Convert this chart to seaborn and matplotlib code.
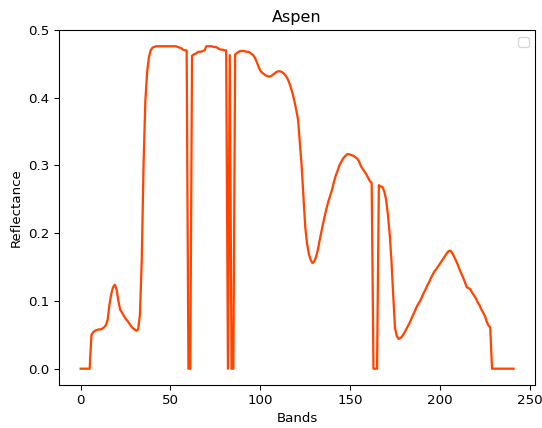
import numpy as np
import pandas as pd
import matplotlib
matplotlib.use("Agg")
import matplotlib.pyplot as plt
import seaborn as sns

# Aspen reflectance spectrum, one value per sensor band (0..241)
reflectance = [
    # 0-9
    0.0, 0.0, 0.0, 0.0, 0.0, 0.0, 0.050, 0.054, 0.056, 0.057,
    # 10-19
    0.058, 0.058, 0.059, 0.061, 0.064, 0.072, 0.094, 0.110, 0.120, 0.124,
    # 20-29
    0.117, 0.100, 0.087, 0.083, 0.078, 0.074, 0.071, 0.067, 0.063, 0.060,
    # 30-39
    0.058, 0.056, 0.058, 0.080, 0.160, 0.300, 0.395, 0.438, 0.460, 0.470,
    # 40-49
    0.474, 0.475, 0.476, 0.476, 0.476, 0.476, 0.476, 0.476, 0.476, 0.476,
    # 50-59
    0.476, 0.476, 0.476, 0.476, 0.475, 0.474, 0.473, 0.471, 0.470, 0.470,
    # 60-69
    0.0, 0.0, 0.462, 0.464, 0.465, 0.467, 0.468, 0.468, 0.469, 0.470,
    # 70-79
    0.476, 0.476, 0.476, 0.476, 0.475, 0.475, 0.474, 0.472, 0.471, 0.471,
    # 80-89
    0.470, 0.470, 0.0, 0.463, 0.0, 0.0, 0.464, 0.466, 0.468, 0.469,
    # 90-99
    0.469, 0.469, 0.468, 0.468, 0.467, 0.465, 0.463, 0.459, 0.453, 0.446,
    # 100-109
    0.440, 0.437, 0.435, 0.433, 0.432, 0.431, 0.432, 0.434, 0.436, 0.438,
    # 110-119
    0.439, 0.439, 0.438, 0.436, 0.433, 0.429, 0.423, 0.415, 0.406, 0.395,
    # 120-129
    0.382, 0.368, 0.335, 0.300, 0.255, 0.210, 0.185, 0.170, 0.161, 0.156,
    # 130-139
    0.158, 0.165, 0.175, 0.189, 0.202, 0.215, 0.227, 0.238, 0.248, 0.256,
    # 140-149
    0.265, 0.276, 0.285, 0.292, 0.300, 0.305, 0.310, 0.313, 0.316, 0.317,
    # 150-159
    0.316, 0.315, 0.314, 0.312, 0.310, 0.306, 0.299, 0.295, 0.291, 0.287,
    # 160-169
    0.282, 0.277, 0.274, 0.0, 0.0, 0.0, 0.271, 0.269, 0.268, 0.262,
    # 170-179
    0.250, 0.228, 0.200, 0.160, 0.108, 0.060, 0.048, 0.044, 0.045, 0.048,
    # 180-189
    0.052, 0.057, 0.062, 0.067, 0.073, 0.079, 0.085, 0.091, 0.096, 0.100,
    # 190-199
    0.106, 0.112, 0.117, 0.123, 0.128, 0.134, 0.139, 0.144, 0.147, 0.151,
    # 200-209
    0.155, 0.159, 0.163, 0.167, 0.171, 0.174, 0.174, 0.170, 0.165, 0.159,
    # 210-219
    0.153, 0.146, 0.140, 0.134, 0.127, 0.120, 0.119, 0.117, 0.112, 0.108,
    # 220-229
    0.104, 0.098, 0.094, 0.088, 0.083, 0.078, 0.070, 0.064, 0.061, 0.0,
    # 230-241
    0.0, 0.0, 0.0, 0.0, 0.0, 0.0, 0.0, 0.0, 0.0, 0.0, 0.0, 0.0,
]
bands = list(range(len(reflectance)))

title = "Aspen"
x_label = "Bands"
y_label = "Reflectance"
line_color = "orangered"

df = pd.DataFrame({"band": bands, "reflectance": reflectance})

plt.rcParams["figure.dpi"] = 96
plt.rcParams["savefig.dpi"] = 96
plt.rcParams["font.family"] = ["DejaVu Sans"]

fig = plt.figure(figsize=(542 / 96, 428 / 96), dpi=96)
ax = fig.add_axes([0.1089, 0.1009, 0.8786, 0.829])

sns.lineplot(data=df, x="band", y="reflectance", color=line_color,
             linewidth=1.7, ax=ax)

ax.set_xlim(-12.05, 253.05)
ax.set_ylim(-0.0238, 0.5)
ax.set_xticks([0, 50, 100, 150, 200, 250])
ax.set_yticks([0.0, 0.1, 0.2, 0.3, 0.4, 0.5])
ax.set_title(title)
ax.set_xlabel(x_label)
ax.set_ylabel(y_label)
ax.legend(handles=[], loc="upper right")

fig.savefig("out.png", dpi=96)
